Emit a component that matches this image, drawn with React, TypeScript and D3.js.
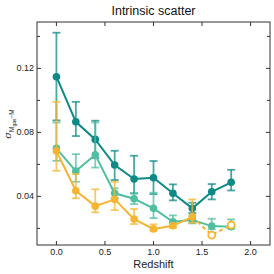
import React from "react";
import * as d3 from "d3";

const redshift = [0, 0.2, 0.4, 0.6, 0.8, 1.0, 1.2, 1.4, 1.6, 1.8];

const darkVal = [0.1148, 0.0866, 0.0756, 0.0596, 0.0508, 0.0516, 0.0419, 0.0325, 0.0429, 0.0488];
const darkLo = [0.0875, 0.0777, 0.0640, 0.0502, 0.0419, 0.0414, 0.0375, 0.0296, 0.0381, 0.0437];
const darkHi = [0.1423, 0.0991, 0.0873, 0.0685, 0.0654, 0.0621, 0.0475, 0.0360, 0.0477, 0.0566];

const lightVal = [0.0700, 0.0558, 0.0660, 0.0419, 0.0385, 0.0325, 0.0241, 0.0252, 0.0214, 0.0210];
const lightLo = [0.0622, 0.0491, 0.0580, 0.0390, 0.0352, 0.0264, 0.0225, 0.0231, 0.0194, 0.0198];
const lightHi = [0.0862, 0.0664, 0.0862, 0.0450, 0.0418, 0.0423, 0.0281, 0.0280, 0.0260, 0.0256];

const yellowVal = [0.0683, 0.0435, 0.0339, 0.0381, 0.0258, 0.0196, 0.0216, 0.0272, 0.0158, 0.0221];
const yellowLo = [0.0560, 0.0388, 0.0300, 0.0314, 0.0227, 0.0185, 0.0203, 0.0235, 0.0158, 0.0221];
const yellowHi = [0.0991, 0.0540, 0.0444, 0.0491, 0.0321, 0.0225, 0.0230, 0.0381, 0.0158, 0.0221];
const yellowOpen = [false, false, false, false, false, false, false, false, true, true];

const xTicks = [0, 0.5, 1.0, 1.5, 2.0];
const yTicks = [0.04, 0.08, 0.12];
const yMinor = [0.02, 0.06, 0.1, 0.14];

const DARK = "#0e8a86";
const LIGHT = "#4fbf9f";
const YELLOW = "#f5b532";

const L = 37, R = 270, T = 22, B = 245;

export default function App() {
  const x = d3.scaleLinear().domain([-0.2, 2.2]).range([L, R]);
  const y = d3.scaleLinear().domain([0.0096, 0.149]).range([B, T]);
  const line = d3.line<[number, number]>().x(d => x(d[0])).y(d => y(d[1]));
  const font = "'Liberation Sans', Arial, sans-serif";

  const series = (vals: number[], lo: number[], hi: number[], color: string, openFlags?: boolean[]) => {
    const solidIdx = redshift.map((_, i) => i).filter(i => !(openFlags && openFlags[i]));
    const lastSolid = solidIdx[solidIdx.length - 1];
    const solidPts: [number, number][] = solidIdx.map(i => [redshift[i], vals[i]]);
    const dashedIdx = openFlags ? [lastSolid, ...redshift.map((_, i) => i).filter(i => openFlags[i])] : [];
    const dashedPts: [number, number][] = dashedIdx.map(i => [redshift[i], vals[i]]);
    return (
      <g>
        {redshift.map((z, i) => (openFlags && openFlags[i]) ? null : (
          <g key={"e" + i} stroke={color} strokeOpacity={0.75} strokeWidth={1.8}>
            <line x1={x(z)} x2={x(z)} y1={y(lo[i])} y2={y(hi[i])} />
            <line x1={x(z) - 4} x2={x(z) + 4} y1={y(lo[i])} y2={y(lo[i])} />
            <line x1={x(z) - 4} x2={x(z) + 4} y1={y(hi[i])} y2={y(hi[i])} />
          </g>
        ))}
        <path d={line(solidPts) || ""} fill="none" stroke={color} strokeWidth={2} />
        {dashedPts.length > 1 && (
          <path d={line(dashedPts) || ""} fill="none" stroke={color} strokeWidth={2} strokeDasharray="4,3" />
        )}
        {redshift.map((z, i) => (openFlags && openFlags[i]) ? (
          <circle key={"m" + i} cx={x(z)} cy={y(vals[i])} r={3.5} fill="white" stroke={color} strokeWidth={1.8} />
        ) : (
          <circle key={"m" + i} cx={x(z)} cy={y(vals[i])} r={3.8} fill={color} />
        ))}
      </g>
    );
  };

  return (
    <svg width={274} height={274} style={{ position: "absolute", left: 0, top: 0 }} fontFamily={font}>
      <rect width={274} height={274} fill="white" />
      <text x={(L + R) / 2} y={14.5} textAnchor="middle" fontSize={12.5} fill="#111">Intrinsic scatter</text>
      {series(darkVal, darkLo, darkHi, DARK)}
      {series(lightVal, lightLo, lightHi, LIGHT)}
      {series(yellowVal, yellowLo, yellowHi, YELLOW, yellowOpen)}
      <rect x={L} y={T} width={R - L} height={B - T} fill="none" stroke="#333" strokeWidth={1} />
      {xTicks.map(t => (
        <g key={"x" + t} stroke="#333">
          <line x1={x(t)} x2={x(t)} y1={B} y2={B - 4} />
          <line x1={x(t)} x2={x(t)} y1={T} y2={T + 4} />
        </g>
      ))}
      {xTicks.map(t => (
        <text key={"xl" + t} x={x(t)} y={B + 9.5} textAnchor="middle" fontSize={9} fill="#222">{t.toFixed(1)}</text>
      ))}
      {yTicks.map(t => (
        <g key={"y" + t}>
          <line x1={L} x2={L + 4} y1={y(t)} y2={y(t)} stroke="#333" />
          <line x1={R} x2={R - 4} y1={y(t)} y2={y(t)} stroke="#333" />
          <text x={L - 3} y={y(t) + 3} textAnchor="end" fontSize={9} fill="#222">{t.toFixed(2)}</text>
        </g>
      ))}
      {yMinor.map(t => (
        <g key={"ym" + t} stroke="#333">
          <line x1={L} x2={L + 3} y1={y(t)} y2={y(t)} />
          <line x1={R} x2={R - 3} y1={y(t)} y2={y(t)} />
        </g>
      ))}
      <text x={(L + R) / 2} y={267.5} textAnchor="middle" fontSize={11} fill="#222">Redshift</text>
      <text transform={`translate(11, 124) rotate(-90)`} textAnchor="middle" fontSize={10} fill="#222">
        <tspan fontStyle="italic" fontFamily="'DejaVu Serif', serif">σ</tspan>
        <tspan fontSize={6.5} dy={3}>M</tspan>
        <tspan fontSize={5} dy={1.5}>gas</tspan>
        <tspan fontSize={6.5} dy={-1.5}>−M</tspan>
      </text>
    </svg>
  );
}
